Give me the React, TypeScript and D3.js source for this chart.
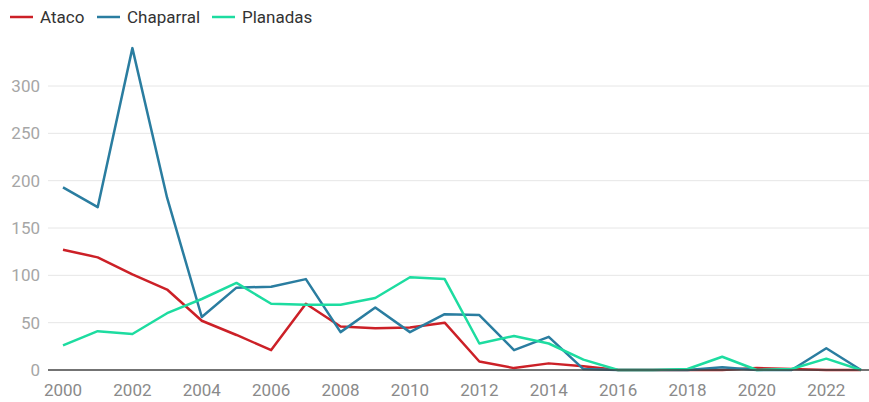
import React, { useRef, useEffect } from "react";
import * as d3 from "d3";

const years = d3.range(2000, 2024);
const ataco = [127, 119, 101, 85, 52, 37, 21, 70, 46, 44, 45, 50, 9, 2, 7, 4, 0, 0, 0, 0, 2, 1, 0, 0];
const chaparral = [193, 172, 340, 182, 56, 87, 88, 96, 40, 66, 40, 59, 58, 21, 35, 1, 0, 0, 0, 3, 0, 0, 23, 0];
const planadas = [26, 41, 38, 60, 75, 92, 70, 69, 69, 76, 98, 96, 28, 36, 28, 11, 0, 0, 1, 14, 0, 1, 12, 0];
const yTicks = [0, 50, 100, 150, 200, 250, 300];
const xTicks = d3.range(2000, 2024, 2);

const series = [
  { name: "Ataco", values: ataco, color: "#cc2027" },
  { name: "Chaparral", values: chaparral, color: "#2a7da0" },
  { name: "Planadas", values: planadas, color: "#1ddca0" },
];

const W = 869;
const H = 402;

const App = () => {
  const ref = useRef<SVGSVGElement>(null);

  useEffect(() => {
    const svg = d3.select(ref.current);
    svg.selectAll("*").remove();

    const x = d3.scaleLinear().domain([2000, 2023]).range([63, 861]);
    const y = d3.scaleLinear().domain([0, 300]).range([370, 86]);
    const font = "Roboto, sans-serif";

    // grid
    svg.append("g")
      .selectAll("line")
      .data(yTicks.filter((d) => d > 0))
      .join("line")
      .attr("x1", 48)
      .attr("x2", W)
      .attr("y1", (d) => y(d))
      .attr("y2", (d) => y(d))
      .attr("stroke", "#e6e6e6")
      .attr("stroke-width", 1);

    // y labels
    svg.append("g")
      .selectAll("text")
      .data(yTicks)
      .join("text")
      .attr("x", 40)
      .attr("y", (d) => y(d))
      .attr("dy", "0.35em")
      .attr("text-anchor", "end")
      .attr("font-family", font)
      .attr("font-size", 17)
      .attr("fill", "#a6a6a6")
      .text((d) => d);

    // x labels
    svg.append("g")
      .selectAll("text")
      .data(xTicks)
      .join("text")
      .attr("x", (d) => x(d))
      .attr("y", 396)
      .attr("text-anchor", "middle")
      .attr("font-family", font)
      .attr("font-size", 17)
      .attr("fill", "#8a8a8a")
      .text((d) => d);

    const line = d3.line<number>()
      .x((_, i) => x(years[i]))
      .y((d) => y(d));

    series.forEach((s) => {
      svg.append("path")
        .datum(s.values)
        .attr("d", line)
        .attr("fill", "none")
        .attr("stroke", s.color)
        .attr("stroke-width", 2.5)
        .attr("stroke-linejoin", "round");
    });

    // baseline
    svg.append("line")
      .attr("x1", 48)
      .attr("x2", W)
      .attr("y1", y(0))
      .attr("y2", y(0))
      .attr("stroke", "#444")
      .attr("stroke-width", 1.5);

    // legend
    const legendX = [10, 97, 212];
    const lg = svg.append("g")
      .selectAll("g")
      .data(series)
      .join("g")
      .attr("transform", (_, i) => `translate(${legendX[i]},17)`);
    lg.append("line")
      .attr("x1", 0)
      .attr("x2", 23)
      .attr("stroke", (d) => d.color)
      .attr("stroke-width", 2.5);
    lg.append("text")
      .attr("x", 30)
      .attr("dy", "0.35em")
      .attr("font-family", font)
      .attr("font-size", 17)
      .attr("fill", "#333")
      .text((d) => d.name);
  }, []);

  return <svg ref={ref} width={W} height={H} style={{ position: "absolute", left: 0, top: 0 }} />;
};

export default App;
